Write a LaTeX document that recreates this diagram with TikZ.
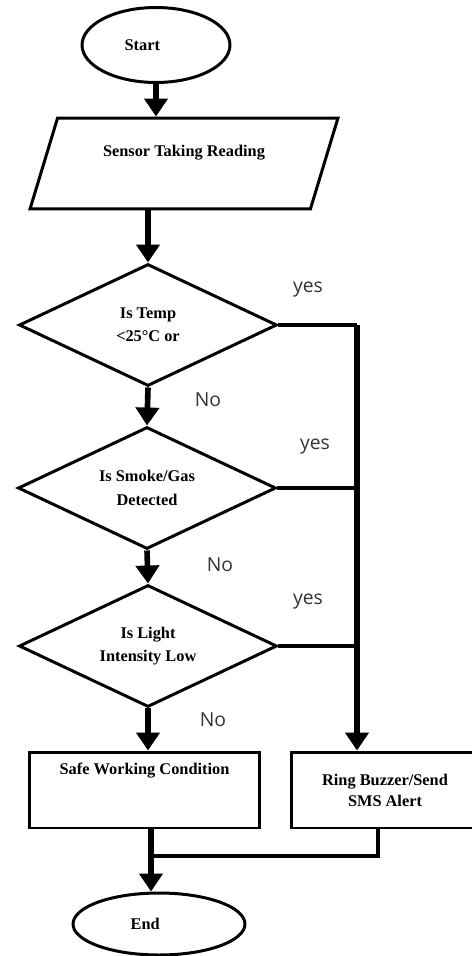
\documentclass[tikz,border=0pt]{standalone}
\usepackage{fontspec}
\setmainfont{Liberation Serif}
\newfontfamily\answerfont{Open Sans}
\usetikzlibrary{shapes.geometric,arrows.meta}

\begin{document}
\begin{tikzpicture}[x=0.02cm, y=-0.02cm,
        box/.style={draw, line width=1.7pt, font=\fontsize{9.3}{12}\selectfont\bfseries},
        term/.style={box, ellipse},
        decide/.style={box, diamond, aspect=2.11, minimum width=5.16cm, minimum height=2.44cm, inner sep=0pt, align=center, font=\fontsize{9.3}{13.2}\selectfont\bfseries},
        flow/.style={-{Triangle[width=0.46cm,length=0.36cm]}, line width=3.2pt},
        yesline/.style={line width=2.6pt},
        answer/.style={font=\answerfont\fontsize{11}{13}\selectfont, text=black!80}]
        \useasboundingbox (0,0) rectangle (471,956);
        \node[term, minimum width=2.96cm, minimum height=1.5cm] (start) at (156,45) {Start\kern0.55cm};
        \node[box, trapezium, trapezium left angle=60, trapezium right angle=120, trapezium stretches body=true, minimum width=6.16cm, minimum height=1.82cm, text height=0.22cm, text depth=0.5cm] (reading) at (184,163.5) {Sensor Taking Reading};
        \node[decide] (temp) at (148,325) {Is Temp\\<25°C or};
        \node[decide] (smoke) at (147,488) {Is Smoke/Gas\\Detected};
        \node[decide] (light) at (148,646) {Is Light\\Intensity Low};
        \node[box, minimum width=4.62cm, minimum height=1.52cm, text height=0.22cm, text depth=0.85cm] (safe) at (144.5,790) {Safe Working Condition};
        \node[box, align=center, minimum width=3.76cm, minimum height=1.52cm] (ring) at (385,790) {Ring Buzzer/Send\\SMS Alert};
        \node[term, minimum width=3.44cm, minimum height=1.24cm] (stop) at (159,924) {End\kern0.55cm};
        \coordinate (bus) at (357,325);
        \coordinate (merge) at (151,856);
        % main flow
        \draw[flow] (start.south) -- (start.south |- reading.north);
        \draw[flow] (temp.north |- reading.south) -- (temp.north);
        \draw[flow] (temp.south) -- (smoke.north);
        \draw[flow] (smoke.south) -- (light.north);
        \draw[flow] (light.south) -- (light.south |- safe.north);
        % yes branch
        \draw[yesline] (temp.east) -- (bus);
        \draw[yesline] (smoke.east) -- (smoke.east -| bus);
        \draw[yesline] (light.east) -- (light.east -| bus);
        \draw[flow] (bus) -- (bus |- ring.north);
        % join to end
        \draw[yesline] ([xshift=-0.14cm]ring.south) |- (merge);
        \draw[flow] (safe.south -| merge) -- (merge |- stop.north);
        \node[answer] (yes1) at (308,290) {yes};
        \node[answer] (no1) at (208,400) {No};
        \node[answer] (yes2) at (315,447) {yes};
        \node[answer] (no2) at (220,565) {No};
        \node[answer] (yes3) at (308,602) {yes};
        \node[answer] (no3) at (213,720) {No};
    \end{tikzpicture}
\end{document}
